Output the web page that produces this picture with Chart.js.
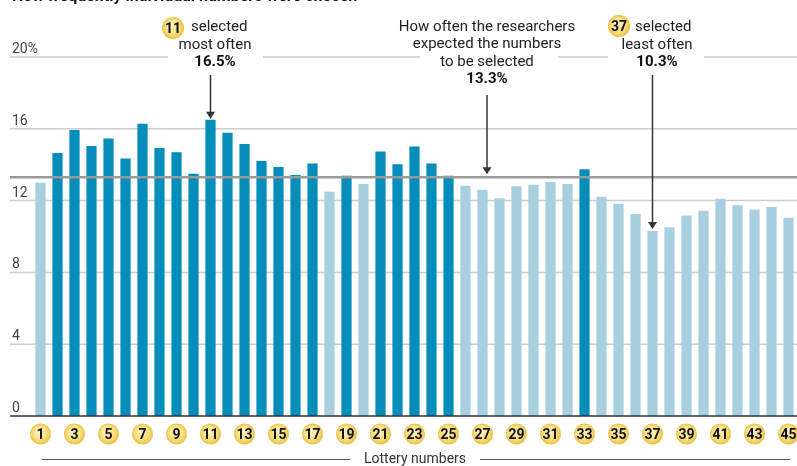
<!DOCTYPE html>
<html>
<head>
<meta charset="utf-8">
<script src="https://cdn.jsdelivr.net/npm/chart.js@4"></script>
<style>
  body { margin: 0; background: #fff; }
  canvas { display: block; }
</style>
</head>
<body>
<canvas id="lotto" width="797" height="466"></canvas>
<script>
// lottery numbers 1..45
const numbers = [1, 2, 3, 4, 5, 6, 7, 8, 9, 10, 11, 12, 13, 14, 15, 16, 17, 18, 19, 20,
  21, 22, 23, 24, 25, 26, 27, 28, 29, 30, 31, 32, 33, 34, 35, 36, 37, 38, 39, 40,
  41, 42, 43, 44, 45];
// share of tickets that included each number (%)
const pctChosen = [13.0, 14.65, 15.94, 15.04, 15.46, 14.35, 16.28, 14.93, 14.7, 13.5,
  16.5, 15.78, 15.15, 14.2, 13.87, 13.43, 14.06, 12.5, 13.39, 12.93,
  14.74, 14.02, 15.02, 14.06, 13.39, 12.83, 12.61, 12.13, 12.8, 12.88,
  13.04, 12.93, 13.74, 12.22, 11.82, 11.26, 10.3, 10.52, 11.17, 11.44,
  12.11, 11.74, 11.5, 11.65, 11.04];
const expected = 13.3;
const yTicks = [0, 4, 8, 12, 16, 20];
const yTickLabels = ['0', '4', '8', '12', '16', '20%'];
const xTickLabels = [1, 3, 5, 7, 9, 11, 13, 15, 17, 19, 21, 23, 25, 27, 29, 31, 33, 35, 37, 39, 41, 43, 45];

const DARK = '#048cba';
const LIGHT = '#a7cfe0';
const FONT = 'Roboto, "Open Sans", sans-serif';

function arrow(ctx, x, y1, y2) {
  ctx.strokeStyle = '#333';
  ctx.fillStyle = '#333';
  ctx.lineWidth = 1.5;
  ctx.beginPath();
  ctx.moveTo(x, y1);
  ctx.lineTo(x, y2 - 5);
  ctx.stroke();
  ctx.beginPath();
  ctx.moveTo(x - 4.5, y2 - 7);
  ctx.lineTo(x + 4.5, y2 - 7);
  ctx.lineTo(x, y2);
  ctx.closePath();
  ctx.fill();
}

function ball(ctx, x, y, r, label, size) {
  const g = ctx.createRadialGradient(x - 2, y - 3, 1, x, y, r);
  g.addColorStop(0, '#fdf3c4');
  g.addColorStop(0.65, '#f8dd7c');
  g.addColorStop(1, '#e9bf3f');
  ctx.fillStyle = g;
  ctx.beginPath();
  ctx.arc(x, y, r, 0, Math.PI * 2);
  ctx.fill();
  ctx.fillStyle = '#111';
  ctx.font = 'bold ' + size + 'px ' + FONT;
  ctx.textAlign = 'center';
  ctx.textBaseline = 'middle';
  ctx.fillText(label, x, y + 1);
}

function textLines(ctx, x, y0, lines) {
  ctx.textAlign = 'center';
  ctx.textBaseline = 'middle';
  lines.forEach((l, i) => {
    ctx.font = (l.bold ? 'bold ' : '') + '15px ' + FONT;
    ctx.fillStyle = l.bold ? '#111' : '#222';
    ctx.fillText(l.t, x, y0 + i * 17.5);
  });
}

const overlay = {
  id: 'overlay',
  beforeDatasetsDraw(chart) {
    const ctx = chart.ctx;
    const ys = chart.scales.y;
    ctx.save();
    yTicks.forEach((v, i) => {
      const py = ys.getPixelForValue(v);
      if (v > 0) {
        ctx.strokeStyle = '#cdcdcd';
        ctx.lineWidth = 1.5;
        ctx.beginPath();
        ctx.moveTo(10, py);
        ctx.lineTo(797, py);
        ctx.stroke();
      }
      ctx.fillStyle = '#444';
      ctx.font = '14px ' + FONT;
      ctx.textAlign = 'left';
      ctx.textBaseline = 'alphabetic';
      ctx.fillText(yTickLabels[i], 12, py - 4);
    });
    ctx.restore();
  },
  afterDatasetsDraw(chart) {
    const ctx = chart.ctx;
    const xs = chart.scales.x;
    const ys = chart.scales.y;
    ctx.save();

    // expected level
    const ey = ys.getPixelForValue(expected);
    ctx.strokeStyle = '#9a9a9a';
    ctx.lineWidth = 2.5;
    ctx.beginPath();
    ctx.moveTo(10, ey);
    ctx.lineTo(797, ey);
    ctx.stroke();

    // baseline
    const by = ys.getPixelForValue(0);
    ctx.strokeStyle = '#333';
    ctx.lineWidth = 1.5;
    ctx.beginPath();
    ctx.moveTo(10, by);
    ctx.lineTo(797, by);
    ctx.stroke();

    // number balls
    xTickLabels.forEach(n => {
      ball(ctx, xs.getPixelForValue(numbers.indexOf(n)), by + 18, 10.5, String(n), 14);
    });

    // axis title
    ctx.fillStyle = '#333';
    ctx.font = '14px ' + FONT;
    ctx.textAlign = 'center';
    ctx.textBaseline = 'middle';
    ctx.fillText('Lottery numbers', 415, 459);
    ctx.strokeStyle = '#555';
    ctx.lineWidth = 1;
    ctx.beginPath();
    ctx.moveTo(42, 459.5); ctx.lineTo(350, 459.5);
    ctx.moveTo(480, 459.5); ctx.lineTo(790, 459.5);
    ctx.stroke();

    // chart title (cut at the top edge)
    ctx.fillStyle = '#111';
    ctx.font = 'bold 16px ' + FONT;
    ctx.textAlign = 'left';
    ctx.textBaseline = 'alphabetic';
    ctx.fillText('How frequently individual numbers were chosen', 12, 1);

    // gaps in the 20% line behind annotations
    ctx.fillStyle = '#fff';
    ctx.fillRect(168, 50, 95, 14);
    ctx.fillRect(420, 50, 138, 14);
    ctx.fillRect(608, 50, 96, 14);

    // most often
    const iMax = numbers.indexOf(11);
    const xMax = xs.getPixelForValue(iMax);
    ball(ctx, 173, 28, 11, '11', 14);
    ctx.font = '15px ' + FONT;
    ctx.fillStyle = '#222';
    ctx.textAlign = 'left';
    ctx.textBaseline = 'middle';
    ctx.fillText('selected', 191, 27);
    textLines(ctx, 215, 45, [{ t: 'most often' }, { t: pctChosen[iMax].toFixed(1) + '%', bold: true }]);
    arrow(ctx, xMax, 75, ys.getPixelForValue(pctChosen[iMax]) - 1);

    // expected
    textLines(ctx, 487, 27, [
      { t: 'How often the researchers' },
      { t: 'expected the numbers' },
      { t: 'to be selected' },
      { t: expected.toFixed(1) + '%', bold: true }
    ]);
    arrow(ctx, 487, 95, ey - 3);

    // least often
    const iMin = numbers.indexOf(37);
    const xMin = xs.getPixelForValue(iMin);
    ball(ctx, 619, 26, 11, '37', 14);
    ctx.font = '15px ' + FONT;
    ctx.fillStyle = '#222';
    ctx.textAlign = 'left';
    ctx.textBaseline = 'middle';
    ctx.fillText('selected', 635, 27);
    textLines(ctx, 657, 45, [{ t: 'least often' }, { t: pctChosen[iMin].toFixed(1) + '%', bold: true }]);
    arrow(ctx, xMin, 75, ys.getPixelForValue(pctChosen[iMin]) - 2);

    ctx.restore();
  }
};

new Chart(document.getElementById('lotto').getContext('2d'), {
  type: 'bar',
  data: {
    labels: numbers,
    datasets: [{
      label: 'Selected',
      data: pctChosen,
      backgroundColor: pctChosen.map(v => v > expected ? DARK : LIGHT),
      borderWidth: 0,
      barPercentage: 0.6,
      categoryPercentage: 1
    }]
  },
  options: {
    responsive: false,
    animation: false,
    layout: { padding: { top: 57, bottom: 50, left: 32, right: 0 } },
    plugins: { legend: { display: false }, tooltip: { enabled: false } },
    scales: {
      x: { display: false },
      y: { display: false, min: 0, max: 20 }
    }
  },
  plugins: [overlay]
});
</script>
</body>
</html>
